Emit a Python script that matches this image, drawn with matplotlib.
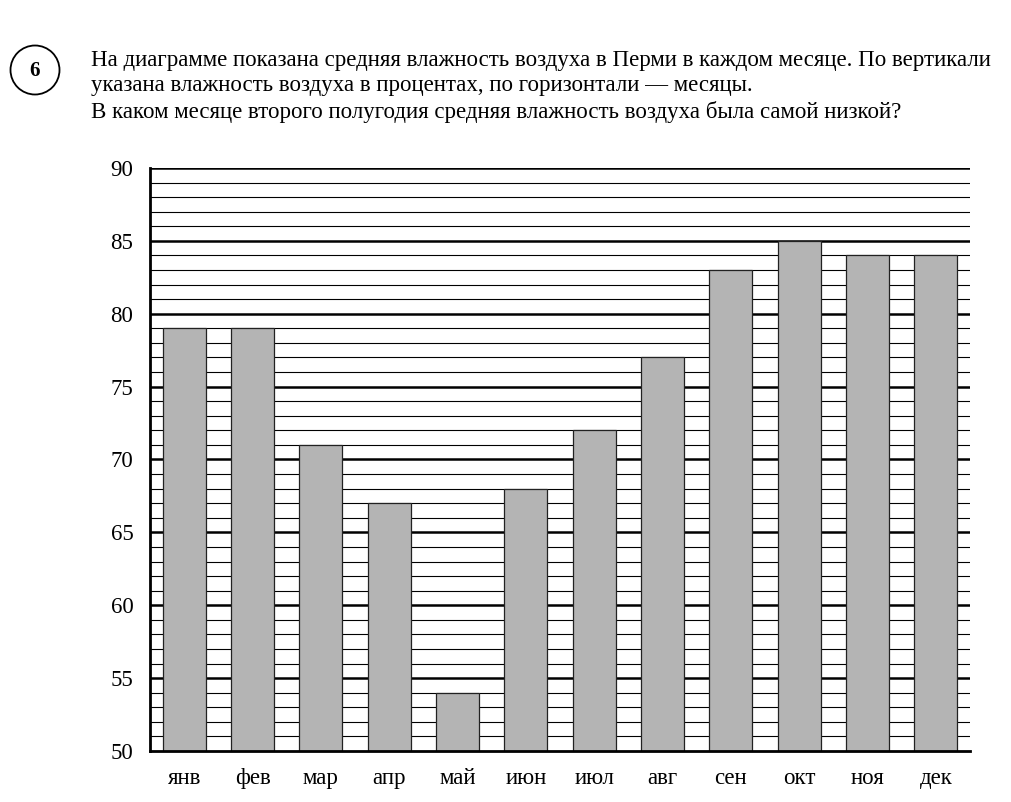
import numpy as np
import matplotlib.pyplot as plt
from matplotlib.patches import Circle

plt.rcParams['font.family'] = ['Liberation Serif', 'DejaVu Serif']

# data
months = ['янв', 'фев', 'мар', 'апр', 'май', 'июн',
          'июл', 'авг', 'сен', 'окт', 'ноя', 'дек']
humidity = [79, 79, 71, 67, 54, 68, 72, 77, 83, 85, 84, 84]
y_ticks = [50, 55, 60, 65, 70, 75, 80, 85, 90]

question = ("На диаграмме показана средняя влажность воздуха в Перми в каждом месяце. По вертикали\n"
            "указана влажность воздуха в процентах, по горизонтали — месяцы.\n"
            "В каком месяце второго полугодия средняя влажность воздуха была самой низкой?")

fig = plt.figure(figsize=(10.11, 8.02), dpi=100)
ax = fig.add_axes([150 / 1011, 1 - 751 / 802, 820 / 1011, 583 / 802])

x = np.arange(len(months))
ax.bar(x, humidity, width=0.63, color='#b4b4b4', edgecolor='#222222',
       linewidth=0.9, zorder=3)

# thin line every unit, thick line every 5
for v in range(51, 91):
    lw = 1.8 if v % 5 == 0 else 0.8
    ax.axhline(v, color='black', linewidth=lw, zorder=1)

ax.set_xlim(-0.5, 11.5)
ax.set_ylim(50, 90)
ax.set_xticks(x)
ax.set_xticklabels(months, fontsize=16.5)
ax.set_yticks(y_ticks)
ax.set_yticklabels([str(t) for t in y_ticks], fontsize=16.5)
ax.tick_params(length=0)
ax.tick_params(axis='y', pad=12)
ax.tick_params(axis='x', pad=12)

for s in ['top', 'right']:
    ax.spines[s].set_visible(False)
ax.spines['left'].set_linewidth(2)
ax.spines['bottom'].set_linewidth(2)
ax.spines['left'].set_zorder(4)
ax.spines['bottom'].set_zorder(4)

fig.text(91 / 1011, 1 - 50 / 802, question, fontsize=16.5, va='top', ha='left',
         linespacing=1.28)

# numbered circle, drawn in inches so it stays round
circ = Circle((0.35, (802 - 70) / 100), 0.245, transform=fig.dpi_scale_trans,
              fill=False, edgecolor='black', linewidth=1.3)
fig.patches.append(circ)
fig.text(35 / 1011, 1 - 71 / 802, '6', fontsize=15, fontweight='bold',
         ha='center', va='center')

plt.savefig('out.png', dpi=100)
